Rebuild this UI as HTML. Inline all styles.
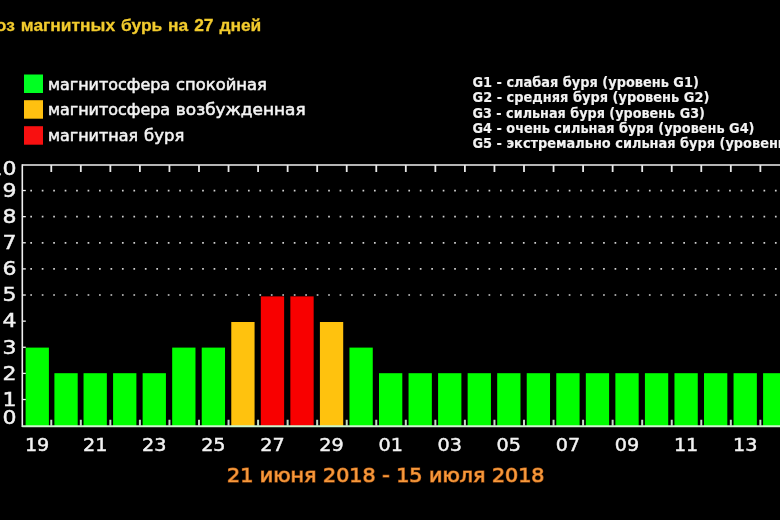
<!DOCTYPE html>
<html lang="ru"><head><meta charset="utf-8"><title>Прогноз магнитных бурь на 27 дней</title>
<style>
html,body{margin:0;padding:0;background:#000;}
body{width:780px;height:520px;overflow:hidden;}
svg{display:block;width:780px;height:520px;background:#000;filter:blur(0.4px);}
text{font-family:"DejaVu Sans","Liberation Sans",sans-serif;fill:#f2f2f2;stroke:#f2f2f2;stroke-width:0.45px;}
.title{font-family:"Liberation Sans",sans-serif;font-weight:bold;font-size:17.4px;word-spacing:1.05px;fill:#f2cb2e;stroke:#f2c92c;stroke-width:0.3px;}
.lg{font-size:15.8px;stroke-width:0.55px;}
.g{font-weight:bold;font-size:13.8px;stroke-width:0.15px;}
.yl{font-size:19.6px;text-anchor:end;}
.xl{font-size:18.2px;text-anchor:middle;}
.date{font-size:19.4px;fill:#f59a3e;stroke:#b85c14;stroke-width:1.2px;paint-order:stroke fill;}
</style></head><body>
<svg width="780" height="520" viewBox="0 0 780 520">
<rect x="0" y="0" width="780" height="520" fill="#000"/>
<line x1="30.3" y1="295.02" x2="780" y2="295.02" stroke="#d0d0d0" stroke-width="1.7" stroke-dasharray="1.7 9.756"/>
<line x1="30.3" y1="268.90" x2="780" y2="268.90" stroke="#d0d0d0" stroke-width="1.7" stroke-dasharray="1.7 9.756"/>
<line x1="30.3" y1="242.78" x2="780" y2="242.78" stroke="#d0d0d0" stroke-width="1.7" stroke-dasharray="1.7 9.756"/>
<line x1="30.3" y1="216.65" x2="780" y2="216.65" stroke="#d0d0d0" stroke-width="1.7" stroke-dasharray="1.7 9.756"/>
<line x1="30.3" y1="190.53" x2="780" y2="190.53" stroke="#d0d0d0" stroke-width="1.7" stroke-dasharray="1.7 9.756"/>
<rect x="25.60" y="347.60" width="23.3" height="78.65" fill="#00ff00"/>
<rect x="54.40" y="373.20" width="23.3" height="53.05" fill="#00ff00"/>
<rect x="83.54" y="373.20" width="23.3" height="53.05" fill="#00ff00"/>
<rect x="113.09" y="373.20" width="23.3" height="53.05" fill="#00ff00"/>
<rect x="142.63" y="373.20" width="23.3" height="53.05" fill="#00ff00"/>
<rect x="172.18" y="347.60" width="23.3" height="78.65" fill="#00ff00"/>
<rect x="201.73" y="347.60" width="23.3" height="78.65" fill="#00ff00"/>
<rect x="231.27" y="322.00" width="23.3" height="104.25" fill="#ffc20e"/>
<rect x="260.82" y="296.40" width="23.3" height="129.85" fill="#f80000"/>
<rect x="290.36" y="296.40" width="23.3" height="129.85" fill="#f80000"/>
<rect x="319.91" y="322.00" width="23.3" height="104.25" fill="#ffc20e"/>
<rect x="349.46" y="347.60" width="23.3" height="78.65" fill="#00ff00"/>
<rect x="379.00" y="373.20" width="23.3" height="53.05" fill="#00ff00"/>
<rect x="408.55" y="373.20" width="23.3" height="53.05" fill="#00ff00"/>
<rect x="438.09" y="373.20" width="23.3" height="53.05" fill="#00ff00"/>
<rect x="467.64" y="373.20" width="23.3" height="53.05" fill="#00ff00"/>
<rect x="497.19" y="373.20" width="23.3" height="53.05" fill="#00ff00"/>
<rect x="526.73" y="373.20" width="23.3" height="53.05" fill="#00ff00"/>
<rect x="556.28" y="373.20" width="23.3" height="53.05" fill="#00ff00"/>
<rect x="585.82" y="373.20" width="23.3" height="53.05" fill="#00ff00"/>
<rect x="615.37" y="373.20" width="23.3" height="53.05" fill="#00ff00"/>
<rect x="644.92" y="373.20" width="23.3" height="53.05" fill="#00ff00"/>
<rect x="674.46" y="373.20" width="23.3" height="53.05" fill="#00ff00"/>
<rect x="704.01" y="373.20" width="23.3" height="53.05" fill="#00ff00"/>
<rect x="733.55" y="373.20" width="23.3" height="53.05" fill="#00ff00"/>
<rect x="763.10" y="373.20" width="23.3" height="53.05" fill="#00ff00"/>
<line x1="22.3" y1="164.2" x2="22.3" y2="427.05" stroke="#f0f0f0" stroke-width="1.6"/>
<line x1="22.3" y1="165.0" x2="780" y2="165.0" stroke="#f0f0f0" stroke-width="1.6"/>
<line x1="22.3" y1="426.25" x2="780" y2="426.25" stroke="#ccf6cc" stroke-width="2.1"/>
<line x1="51.26" y1="165.0" x2="51.26" y2="172.0" stroke="#e8e8e8" stroke-width="1.8"/>
<line x1="51.26" y1="426.25" x2="51.26" y2="419.75" stroke="#c4dcc4" stroke-width="2"/>
<line x1="80.81" y1="165.0" x2="80.81" y2="172.0" stroke="#e8e8e8" stroke-width="1.8"/>
<line x1="80.81" y1="426.25" x2="80.81" y2="419.75" stroke="#c4dcc4" stroke-width="2"/>
<line x1="110.35" y1="165.0" x2="110.35" y2="172.0" stroke="#e8e8e8" stroke-width="1.8"/>
<line x1="110.35" y1="426.25" x2="110.35" y2="419.75" stroke="#c4dcc4" stroke-width="2"/>
<line x1="139.90" y1="165.0" x2="139.90" y2="172.0" stroke="#e8e8e8" stroke-width="1.8"/>
<line x1="139.90" y1="426.25" x2="139.90" y2="419.75" stroke="#c4dcc4" stroke-width="2"/>
<line x1="169.44" y1="165.0" x2="169.44" y2="172.0" stroke="#e8e8e8" stroke-width="1.8"/>
<line x1="169.44" y1="426.25" x2="169.44" y2="419.75" stroke="#c4dcc4" stroke-width="2"/>
<line x1="198.99" y1="165.0" x2="198.99" y2="172.0" stroke="#e8e8e8" stroke-width="1.8"/>
<line x1="198.99" y1="426.25" x2="198.99" y2="419.75" stroke="#c4dcc4" stroke-width="2"/>
<line x1="228.54" y1="165.0" x2="228.54" y2="172.0" stroke="#e8e8e8" stroke-width="1.8"/>
<line x1="228.54" y1="426.25" x2="228.54" y2="419.75" stroke="#c4dcc4" stroke-width="2"/>
<line x1="258.08" y1="165.0" x2="258.08" y2="172.0" stroke="#e8e8e8" stroke-width="1.8"/>
<line x1="258.08" y1="426.25" x2="258.08" y2="419.75" stroke="#c4dcc4" stroke-width="2"/>
<line x1="287.63" y1="165.0" x2="287.63" y2="172.0" stroke="#e8e8e8" stroke-width="1.8"/>
<line x1="287.63" y1="426.25" x2="287.63" y2="419.75" stroke="#c4dcc4" stroke-width="2"/>
<line x1="317.17" y1="165.0" x2="317.17" y2="172.0" stroke="#e8e8e8" stroke-width="1.8"/>
<line x1="317.17" y1="426.25" x2="317.17" y2="419.75" stroke="#c4dcc4" stroke-width="2"/>
<line x1="346.72" y1="165.0" x2="346.72" y2="172.0" stroke="#e8e8e8" stroke-width="1.8"/>
<line x1="346.72" y1="426.25" x2="346.72" y2="419.75" stroke="#c4dcc4" stroke-width="2"/>
<line x1="376.27" y1="165.0" x2="376.27" y2="172.0" stroke="#e8e8e8" stroke-width="1.8"/>
<line x1="376.27" y1="426.25" x2="376.27" y2="419.75" stroke="#c4dcc4" stroke-width="2"/>
<line x1="405.81" y1="165.0" x2="405.81" y2="172.0" stroke="#e8e8e8" stroke-width="1.8"/>
<line x1="405.81" y1="426.25" x2="405.81" y2="419.75" stroke="#c4dcc4" stroke-width="2"/>
<line x1="435.36" y1="165.0" x2="435.36" y2="172.0" stroke="#e8e8e8" stroke-width="1.8"/>
<line x1="435.36" y1="426.25" x2="435.36" y2="419.75" stroke="#c4dcc4" stroke-width="2"/>
<line x1="464.90" y1="165.0" x2="464.90" y2="172.0" stroke="#e8e8e8" stroke-width="1.8"/>
<line x1="464.90" y1="426.25" x2="464.90" y2="419.75" stroke="#c4dcc4" stroke-width="2"/>
<line x1="494.45" y1="165.0" x2="494.45" y2="172.0" stroke="#e8e8e8" stroke-width="1.8"/>
<line x1="494.45" y1="426.25" x2="494.45" y2="419.75" stroke="#c4dcc4" stroke-width="2"/>
<line x1="524.00" y1="165.0" x2="524.00" y2="172.0" stroke="#e8e8e8" stroke-width="1.8"/>
<line x1="524.00" y1="426.25" x2="524.00" y2="419.75" stroke="#c4dcc4" stroke-width="2"/>
<line x1="553.54" y1="165.0" x2="553.54" y2="172.0" stroke="#e8e8e8" stroke-width="1.8"/>
<line x1="553.54" y1="426.25" x2="553.54" y2="419.75" stroke="#c4dcc4" stroke-width="2"/>
<line x1="583.09" y1="165.0" x2="583.09" y2="172.0" stroke="#e8e8e8" stroke-width="1.8"/>
<line x1="583.09" y1="426.25" x2="583.09" y2="419.75" stroke="#c4dcc4" stroke-width="2"/>
<line x1="612.63" y1="165.0" x2="612.63" y2="172.0" stroke="#e8e8e8" stroke-width="1.8"/>
<line x1="612.63" y1="426.25" x2="612.63" y2="419.75" stroke="#c4dcc4" stroke-width="2"/>
<line x1="642.18" y1="165.0" x2="642.18" y2="172.0" stroke="#e8e8e8" stroke-width="1.8"/>
<line x1="642.18" y1="426.25" x2="642.18" y2="419.75" stroke="#c4dcc4" stroke-width="2"/>
<line x1="671.73" y1="165.0" x2="671.73" y2="172.0" stroke="#e8e8e8" stroke-width="1.8"/>
<line x1="671.73" y1="426.25" x2="671.73" y2="419.75" stroke="#c4dcc4" stroke-width="2"/>
<line x1="701.27" y1="165.0" x2="701.27" y2="172.0" stroke="#e8e8e8" stroke-width="1.8"/>
<line x1="701.27" y1="426.25" x2="701.27" y2="419.75" stroke="#c4dcc4" stroke-width="2"/>
<line x1="730.82" y1="165.0" x2="730.82" y2="172.0" stroke="#e8e8e8" stroke-width="1.8"/>
<line x1="730.82" y1="426.25" x2="730.82" y2="419.75" stroke="#c4dcc4" stroke-width="2"/>
<line x1="760.36" y1="165.0" x2="760.36" y2="172.0" stroke="#e8e8e8" stroke-width="1.8"/>
<line x1="760.36" y1="426.25" x2="760.36" y2="419.75" stroke="#c4dcc4" stroke-width="2"/>
<line x1="22.3" y1="399.52" x2="25.8" y2="399.52" stroke="#f0f0f0" stroke-width="1.3"/>
<line x1="22.3" y1="373.40" x2="25.8" y2="373.40" stroke="#f0f0f0" stroke-width="1.3"/>
<line x1="22.3" y1="347.27" x2="25.8" y2="347.27" stroke="#f0f0f0" stroke-width="1.3"/>
<line x1="22.3" y1="321.15" x2="25.8" y2="321.15" stroke="#f0f0f0" stroke-width="1.3"/>
<line x1="22.3" y1="295.02" x2="25.8" y2="295.02" stroke="#f0f0f0" stroke-width="1.3"/>
<line x1="22.3" y1="268.90" x2="25.8" y2="268.90" stroke="#f0f0f0" stroke-width="1.3"/>
<line x1="22.3" y1="242.78" x2="25.8" y2="242.78" stroke="#f0f0f0" stroke-width="1.3"/>
<line x1="22.3" y1="216.65" x2="25.8" y2="216.65" stroke="#f0f0f0" stroke-width="1.3"/>
<line x1="22.3" y1="190.53" x2="25.8" y2="190.53" stroke="#f0f0f0" stroke-width="1.3"/>
<rect x="24" y="74.5" width="19" height="18.5" fill="#00ff22"/>
<rect x="24" y="100.2" width="19" height="18.5" fill="#ffc010"/>
<rect x="24" y="126.2" width="19" height="18.5" fill="#f81010"/>
<text class="lg" x="47.96" y="89.6" textLength="122.19" lengthAdjust="spacingAndGlyphs">магнитосфера</text>
<text class="lg" x="176.1" y="89.6" textLength="90.7" lengthAdjust="spacingAndGlyphs">спокойная</text>
<text class="lg" x="47.96" y="115.1" textLength="122.19" lengthAdjust="spacingAndGlyphs">магнитосфера</text>
<text class="lg" x="175.89" y="115.1" textLength="129.75" lengthAdjust="spacingAndGlyphs">возбужденная</text>
<text class="lg" x="47.98" y="140.6" textLength="90.09" lengthAdjust="spacingAndGlyphs">магнитная</text>
<text class="lg" x="144.13" y="140.6" textLength="40.26" lengthAdjust="spacingAndGlyphs">буря</text>
<text class="title" x="261.3" y="30.8" text-anchor="end">Прогноз магнитных бурь на 27 дней</text>
<text class="g" x="472.5" y="87.2" textLength="226.3" lengthAdjust="spacingAndGlyphs">G1 - слабая буря (уровень G1)</text>
<text class="g" x="472.5" y="102.2" textLength="236.9" lengthAdjust="spacingAndGlyphs">G2 - средняя буря (уровень G2)</text>
<text class="g" x="472.5" y="117.5" textLength="232.4" lengthAdjust="spacingAndGlyphs">G3 - сильная буря (уровень G3)</text>
<text class="g" x="472.5" y="132.8" textLength="282" lengthAdjust="spacingAndGlyphs">G4 - очень сильная буря (уровень G4)</text>
<text class="g" x="472.5" y="148.1" textLength="343.5" lengthAdjust="spacingAndGlyphs">G5 - экстремально сильная буря (уровень G5)</text>
<text class="yl" x="16.6" y="424.2" textLength="14.0" lengthAdjust="spacingAndGlyphs">0</text>
<text class="yl" x="16.6" y="405.6" textLength="14.0" lengthAdjust="spacingAndGlyphs">1</text>
<text class="yl" x="16.6" y="379.5" textLength="14.0" lengthAdjust="spacingAndGlyphs">2</text>
<text class="yl" x="16.6" y="354.3" textLength="14.0" lengthAdjust="spacingAndGlyphs">3</text>
<text class="yl" x="16.6" y="327.2" textLength="14.0" lengthAdjust="spacingAndGlyphs">4</text>
<text class="yl" x="16.6" y="301.1" textLength="14.0" lengthAdjust="spacingAndGlyphs">5</text>
<text class="yl" x="16.6" y="275.0" textLength="14.0" lengthAdjust="spacingAndGlyphs">6</text>
<text class="yl" x="16.6" y="248.9" textLength="14.0" lengthAdjust="spacingAndGlyphs">7</text>
<text class="yl" x="16.6" y="222.8" textLength="14.0" lengthAdjust="spacingAndGlyphs">8</text>
<text class="yl" x="16.6" y="196.6" textLength="14.0" lengthAdjust="spacingAndGlyphs">9</text>
<text class="yl" x="16.6" y="175.0" textLength="28.0" lengthAdjust="spacingAndGlyphs">10</text>
<text class="xl" x="37.10" y="451.4" textLength="24.4" lengthAdjust="spacingAndGlyphs">19</text>
<text class="xl" x="95.19" y="451.4" textLength="24.4" lengthAdjust="spacingAndGlyphs">21</text>
<text class="xl" x="154.28" y="451.4" textLength="24.4" lengthAdjust="spacingAndGlyphs">23</text>
<text class="xl" x="213.38" y="451.4" textLength="24.4" lengthAdjust="spacingAndGlyphs">25</text>
<text class="xl" x="272.47" y="451.4" textLength="24.4" lengthAdjust="spacingAndGlyphs">27</text>
<text class="xl" x="331.56" y="451.4" textLength="24.4" lengthAdjust="spacingAndGlyphs">29</text>
<text class="xl" x="390.65" y="451.4" textLength="24.4" lengthAdjust="spacingAndGlyphs">01</text>
<text class="xl" x="449.74" y="451.4" textLength="24.4" lengthAdjust="spacingAndGlyphs">03</text>
<text class="xl" x="508.84" y="451.4" textLength="24.4" lengthAdjust="spacingAndGlyphs">05</text>
<text class="xl" x="567.93" y="451.4" textLength="24.4" lengthAdjust="spacingAndGlyphs">07</text>
<text class="xl" x="627.02" y="451.4" textLength="24.4" lengthAdjust="spacingAndGlyphs">09</text>
<text class="xl" x="686.11" y="451.4" textLength="24.4" lengthAdjust="spacingAndGlyphs">11</text>
<text class="xl" x="745.20" y="451.4" textLength="24.4" lengthAdjust="spacingAndGlyphs">13</text>
<text class="date" x="227" y="482" textLength="317.5" lengthAdjust="spacingAndGlyphs">21 июня 2018 - 15 июля 2018</text>
</svg></body></html>
